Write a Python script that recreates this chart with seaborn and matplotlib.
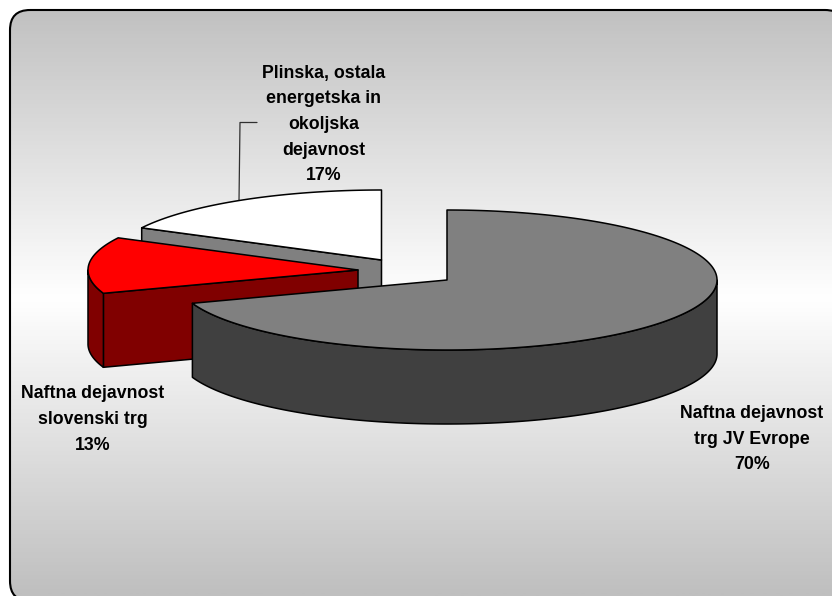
import numpy as np
import matplotlib
matplotlib.use('Agg')
import matplotlib.pyplot as plt
from matplotlib.patches import FancyBboxPatch, Polygon
import seaborn as sns

shares = [69.6, 13.0, 17.4]
labels = ['Naftna dejavnost\ntrg JV Evrope\n70%',
          'Naftna dejavnost\nslovenski trg\n13%',
          'Plinska, ostala\nenergetska in\nokoljska\ndejavnost\n17%']
top_colors = ['#808080', '#ff0000', '#ffffff']
side_colors = ['#404040', '#800000', '#808080']
centers = [(447, 280), (358, 270), (381.5, 260)]
label_pos = [(752, 439), (93, 419.5), (324, 124.5)]

RX, RY, DEPTH = 270, 70, 74

sns.set_style('white')
plt.rcParams['font.family'] = ['Liberation Sans', 'DejaVu Sans']

fig = plt.figure(figsize=(8.32, 5.96), dpi=100)
ax = fig.add_axes([0, 0, 1, 1])
ax.set_xlim(0, 832)
ax.set_ylim(596, 0)
ax.axis('off')

# background card with the vertical grey-white-grey gradient, it runs off the right and bottom
rounded = FancyBboxPatch((30, 30), 795, 551, boxstyle='round,pad=20,rounding_size=20')
card_verts = rounded.get_path().to_polygons()[0]
card = Polygon(card_verts, fc='none', ec='black', lw=1.5, zorder=2)
ax.add_patch(card)
cmap = sns.blend_palette(['#bfbfbf', '#ffffff', '#bfbfbf'], as_cmap=True)
grad = np.linspace(0, 1, 300).reshape(-1, 1)
img = ax.imshow(grad, cmap=cmap, extent=(0, 832, 596, 0), aspect='auto', zorder=1)
img.set_clip_path(card)
ax.set_xlim(0, 832)
ax.set_ylim(596, 0)


def rim(cx, cy, t0, t1):
    t = np.radians(np.linspace(t0, t1, max(int(abs(t1 - t0)) * 2, 2)))
    return np.column_stack([cx + RX * np.sin(t), cy - RY * np.cos(t)])


bounds = np.cumsum([0] + shares) * 3.6
z = 10
# the slices are painted back to front
for i in [2, 1, 0]:
    cx, cy = centers[i]
    t0, t1 = bounds[i], bounds[i + 1]
    down = np.array([0, DEPTH])
    apex = np.array([cx, cy])
    p0 = rim(cx, cy, t0, t0)[0]
    style = dict(ec='black', lw=1.1, joinstyle='round', zorder=z)
    # cut faces that look towards the viewer
    if i > 0:
        ax.add_patch(Polygon([apex, p0, p0 + down, apex + down], fc=side_colors[i], **style))
    # outer wall, only the part on the near half of the ellipse
    a, b = max(t0, 90), min(t1, 270)
    if a < b:
        front = rim(cx, cy, a, b)
        ax.add_patch(Polygon(np.vstack([front, (front + down)[::-1]]),
                             fc=side_colors[i], **style))
    # top face
    ax.add_patch(Polygon(np.vstack([apex, rim(cx, cy, t0, t1)]), fc=top_colors[i], **style))
    z += 1

# leader line of the white slice
ax.plot([257, 240, 239], [122.5, 122.5, 201], color='#303030', lw=0.9, zorder=5)

for text, (x, y) in zip(labels, label_pos):
    ax.text(x, y, text, ha='center', va='center', fontsize=12.8, fontweight='bold',
            color='black', linespacing=1.66, zorder=30)

fig.savefig('out.png', dpi=100)
